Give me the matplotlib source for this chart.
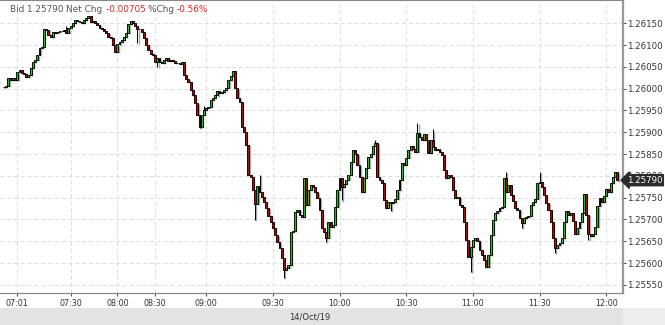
import matplotlib
matplotlib.use('Agg')
import matplotlib.pyplot as plt
import numpy as np
from matplotlib.patches import Rectangle

# 1-minute closes, 14 Oct 2019
closes = [
    1.26004, 1.26006, 1.26024, 1.26020, 1.26024, 1.26020, 1.26038, 1.26043, 1.26036, 1.26034,
    1.26027, 1.26031, 1.26047, 1.26061, 1.26066, 1.26077, 1.26093, 1.26096, 1.26137, 1.26135,
    1.26123, 1.26119, 1.26130, 1.26128, 1.26130, 1.26132, 1.26132, 1.26135, 1.26128, 1.26139,
    1.26144, 1.26151, 1.26158, 1.26155, 1.26153, 1.26151, 1.26158, 1.26162, 1.26167, 1.26153,
    1.26155, 1.26151, 1.26146, 1.26139, 1.26137, 1.26132, 1.26128, 1.26119, 1.26116, 1.26100,
    1.26084, 1.26102, 1.26107, 1.26112, 1.26119, 1.26128, 1.26148, 1.26155, 1.26151, 1.26144,
    1.26137, 1.26137, 1.26130, 1.26116, 1.26100, 1.26089, 1.26080, 1.26077, 1.26061, 1.26070,
    1.26061, 1.26059, 1.26066, 1.26070, 1.26064, 1.26066, 1.26064, 1.26059, 1.26059, 1.26057,
    1.26061, 1.26031, 1.26022, 1.26015, 1.25997, 1.25985, 1.25967, 1.25940, 1.25912, 1.25940,
    1.25951, 1.25956, 1.25958, 1.25974, 1.25979, 1.25985, 1.25995, 1.25990, 1.25992, 1.25997,
    1.26002, 1.26020, 1.26029, 1.26041, 1.26002, 1.25979, 1.25969, 1.25912, 1.25901, 1.25871,
    1.25802, 1.25797, 1.25768, 1.25735, 1.25777, 1.25763, 1.25752, 1.25740, 1.25726, 1.25708,
    1.25694, 1.25680, 1.25664, 1.25648, 1.25635, 1.25612, 1.25584, 1.25589, 1.25596, 1.25671,
    1.25674, 1.25717, 1.25722, 1.25710, 1.25706, 1.25795, 1.25733, 1.25768, 1.25779, 1.25774,
    1.25763, 1.25749, 1.25722, 1.25680, 1.25671, 1.25657, 1.25694, 1.25683, 1.25687, 1.25729,
    1.25768, 1.25795, 1.25774, 1.25781, 1.25791, 1.25802, 1.25832, 1.25859, 1.25850, 1.25825,
    1.25797, 1.25763, 1.25795, 1.25818, 1.25843, 1.25850, 1.25869, 1.25875, 1.25797, 1.25791,
    1.25784, 1.25745, 1.25726, 1.25740, 1.25738, 1.25740, 1.25747, 1.25768, 1.25791, 1.25830,
    1.25825, 1.25841, 1.25859, 1.25869, 1.25862, 1.25855, 1.25898, 1.25889, 1.25882, 1.25896,
    1.25882, 1.25852, 1.25882, 1.25866, 1.25859, 1.25862, 1.25855, 1.25848, 1.25813, 1.25795,
    1.25802, 1.25797, 1.25768, 1.25749, 1.25752, 1.25733, 1.25729, 1.25694, 1.25653, 1.25614,
    1.25637, 1.25653, 1.25657, 1.25651, 1.25630, 1.25618, 1.25607, 1.25591, 1.25618, 1.25664,
    1.25699, 1.25715, 1.25719, 1.25726, 1.25729, 1.25795, 1.25763, 1.25779, 1.25756, 1.25742,
    1.25726, 1.25722, 1.25703, 1.25692, 1.25703, 1.25706, 1.25708, 1.25733, 1.25740, 1.25747,
    1.25784, 1.25786, 1.25774, 1.25756, 1.25738, 1.25722, 1.25694, 1.25657, 1.25635, 1.25641,
    1.25646, 1.25657, 1.25694, 1.25719, 1.25710, 1.25715, 1.25696, 1.25667, 1.25680, 1.25694,
    1.25715, 1.25758, 1.25710, 1.25667, 1.25662, 1.25667, 1.25683, 1.25731, 1.25749, 1.25740,
    1.25754, 1.25770, 1.25763, 1.25784, 1.25797, 1.25809, 1.25790,
]
first_open = 1.26003

# longer wicks visible on the chart
hi_idx = [28, 90, 115, 152, 167, 186, 193, 226, 241]
hi_val = [1.26144, 1.25960, 1.25802, 1.25795, 1.25882, 1.25921, 1.25907, 1.25809, 1.25809]
lo_idx = [60, 69, 88, 113, 126, 145, 152, 174, 210, 233, 248, 263]
lo_val = [1.26105, 1.26050, 1.25910, 1.25699, 1.25566, 1.25648, 1.25744, 1.25720, 1.25579, 1.25680, 1.25623, 1.25653]

tick_pos = [6, 30, 51, 68, 91, 121, 151, 181, 211, 241, 271]
tick_labels = ['07:01', '07:30', '08:00', '08:30', '09:00', '09:30', '10:00', '10:30', '11:00', '11:30', '12:00']
price_ticks = [1.25550, 1.25600, 1.25650, 1.25700, 1.25750, 1.25800, 1.25850,
               1.25900, 1.25950, 1.26000, 1.26050, 1.26100, 1.26150]
last_price = 1.25790

closes = np.array(closes)
opens = np.r_[first_open, closes[:-1]]
highs = np.maximum(opens, closes)
lows = np.minimum(opens, closes)
for i, v in zip(hi_idx, hi_val):
    highs[i] = max(highs[i], v)
for i, v in zip(lo_idx, lo_val):
    lows[i] = min(lows[i], v)
x = np.arange(len(closes))

green = '#1ec21e'
red = '#cc0000'
colors = np.where(closes > opens, green, np.where(closes < opens, red, 'black'))
body = closes - opens
body = np.where(np.abs(body) < 0.000005, 0.000005, body)

fig = plt.figure(figsize=(6.65, 3.25), dpi=100)
ax = fig.add_axes([0, 0.1, 0.9363, 0.9])

# grey drop shadow
ax.vlines(x + 0.55, lows - 0.00003, highs - 0.00003, color='#a8a8a8', lw=1.0, zorder=1)
ax.bar(x + 0.55, body, bottom=opens - 0.00003, width=0.85, color='#b0b0b0', lw=0, zorder=1)
# candles
ax.vlines(x, lows, highs, color='black', lw=0.7, zorder=2)
ax.bar(x, body, bottom=opens, width=0.85, color=colors, edgecolor='black', lw=0.65, zorder=3)

ax.set_xlim(-1.8, 278.4)
ax.set_ylim(1.255324, 1.262034)

ax.set_xticks(tick_pos)
ax.set_xticklabels(tick_labels)
ax.set_yticks(price_ticks)
ax.set_yticklabels(['%.5f' % p for p in price_ticks])
ax.yaxis.tick_right()
ax.tick_params(axis='y', labelsize=6.2, colors='#333333', length=2, pad=1, width=0.6)
ax.tick_params(axis='x', labelsize=5.8, colors='#333333', length=2, pad=2.5, width=0.6)
ax.grid(True, color='#dcdcdc', ls=(0, (4, 3)), lw=0.7)
ax.set_axisbelow(True)

ax.spines['left'].set_visible(False)
ax.spines['top'].set_color('#888888')
ax.spines['top'].set_linewidth(0.8)
ax.spines['right'].set_color('#999999')
ax.spines['right'].set_linewidth(1.6)
ax.spines['bottom'].set_color('#888888')
ax.spines['bottom'].set_linewidth(0.9)

# current price marker
ax.annotate('%.5f' % last_price, xy=(1.0, last_price), xycoords=('axes fraction', 'data'),
            xytext=(3, 0), textcoords='offset points', ha='left', va='center',
            fontsize=6.2, color='white', annotation_clip=False, zorder=10,
            bbox=dict(boxstyle='larrow,pad=0.12', fc='#2b2b2b', ec='#2b2b2b'))

# bottom date strip
fig.patches.append(Rectangle((0, 0), 0.9363, 0.052, transform=fig.transFigure,
                             fc='#e3e3e3', ec='none', zorder=0))
fig.patches.append(Rectangle((0.9363, 0), 0.07, 0.052, transform=fig.transFigure,
                             fc='#eeeeee', ec='none', zorder=0))
fig.text(0.466, 0.024, '14/Oct/19', ha='center', va='center', fontsize=6, color='#333333')

# header line
pieces = [('Bid ', '#555555'), ('1.25790 ', '#555555'), ('Net Chg ', '#555555'),
          ('-0.00705 ', '#e02424'), ('%Chg ', '#555555'), ('-0.56%', '#e02424')]
renderer = fig.canvas.get_renderer()
xpos = 10 / 665
for txt, col in pieces:
    t = fig.text(xpos, 1 - 10 / 325, txt, ha='left', va='center', fontsize=6.4, color=col)
    bb = t.get_window_extent(renderer=renderer)
    xpos += bb.width / fig.bbox.width

fig.savefig('out.png', dpi=100)
